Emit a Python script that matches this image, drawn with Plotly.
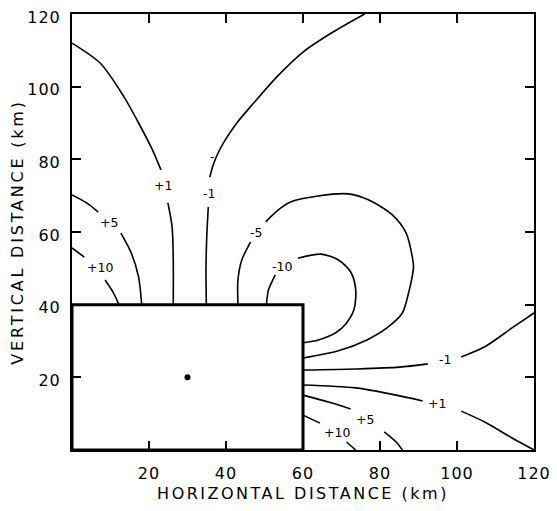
import plotly.graph_objects as go

# ---- contour lines (km); None = break at a label ----
p1L_x = [0, 7.3, 13.5, 17.3, 20.9, 23.1, None, 24.9, 26.0, 26.3, 26.3]
p1L_y = [112, 106.5, 97.2, 90.0, 82.6, 77.1, None, 68.0, 61.4, 52.3, 40]

m1L_x = [76.0, 67.9, 60.1, 53.2, 47.2, 42.8, 39.5, 37.7, 36.6, 35.8, None, 35.4, 35.0, 34.8, 34.9]
m1L_y = [120, 115.1, 109.6, 102.7, 95.5, 90.0, 84.8, 81.2, 78.2, 75.1, None, 66.9, 58.6, 49.5, 40]

m5_x = [43.1, 43.1, 44.1, 46.4, None, 50.3, 53.6, 56.9, 63.9, 71.8, 77.1, 83.2, 86.8,
        88.4, 88.7, 88.2, 87.6, 85.8, 81.8, 76.6, 69.2, 60]
m5_y = [40, 46.8, 52.3, 57.3, None, 62.8, 66.1, 68.3, 69.9, 70.5, 68.8, 64.7, 59.7,
        53.1, 50.4, 46.8, 44.0, 37.7, 33.6, 30.3, 27.3, 25.3]

m10_x = [50.5, 51.0, 51.8, 52.8, None, 58.7, 64.7, 69.2, 72.4, 73.7, 73.2, 71.1, 68.4, 64.0, 60]
m10_y = [40, 44.0, 46.0, 48.2, None, 52.8, 53.9, 52.3, 49.0, 44.0, 38.5, 34.7, 32.2, 30.3, 29.5]

m1R_x = [60, 73.7, 85.0, 92.4, None, 101.1, 107.2, 114.3, 120]
m1R_y = [22.0, 22.3, 22.8, 23.7, None, 25.6, 28.4, 33.6, 37.7]

p1R_x = [60, 73.7, 84.2, 91.1, None, 101.1, 107.2, 114.3, 120]
p1R_y = [17.9, 17.1, 15.1, 13.5, None, 10.7, 7.7, 3.3, 0]

p5R_x = [60, 66.6, 72.4, None, 81.1, 84.2, 85.8]
p5R_y = [15.1, 13.2, 11.3, None, 5.0, 2.2, 0]

p10R_x = [60, 64.4, None, 71.3, 73.7]
p10R_y = [9.6, 7.4, None, 2.2, 0]

p5L_x = [0, 3.8, 6.8, None, 12.7, 15.4, 17.3, 18.1]
p5L_y = [70.2, 68.0, 65.5, None, 59.7, 54.2, 47.6, 40]

p10L_x = [0, 3.2, None, 8.6, 10.8, 12.2]
p10L_y = [55.6, 53.1, None, 46.8, 43.2, 40]

# ---- contour labels ----
label_text = ["+1", "-1", "-5", "-10", "+5", "+10", "-1", "+1", "+5", "+10", "-"]
label_x = [23.7, 35.7, 47.9, 54.6, 9.5, 7.3, 96.8, 94.7, 76.0, 68.7, 36.6]
label_y = [72.9, 70.7, 60.0, 50.4, 62.5, 50.2, 25.0, 12.7, 8.3, 4.7, 80.9]

# ---- body (rectangle) and source point ----
box_x = [0, 60]
box_y = [0, 40]
dot_x = [30]
dot_y = [20]

tick_vals = [20, 40, 60, 80, 100, 120]
tick_text = ["20", "40", "60", "80", "100", "120"]
x_title = "HORIZONTAL DISTANCE (km)"
y_title = "VERTICAL DISTANCE (km)"

FONT = "DejaVu Sans"


def spaced(s, px):
    return '<span style="letter-spacing:%spx">%s</span>' % (px, s)


fig = go.Figure()
lines = [(p1L_x, p1L_y), (m1L_x, m1L_y), (m5_x, m5_y), (m10_x, m10_y),
         (m1R_x, m1R_y), (p1R_x, p1R_y), (p5R_x, p5R_y), (p10R_x, p10R_y),
         (p5L_x, p5L_y), (p10L_x, p10L_y)]
for xs, ys in lines:
    fig.add_trace(go.Scatter(x=xs, y=ys, mode="lines",
                             line=dict(color="black", width=1.6, shape="spline", smoothing=0.8),
                             connectgaps=False, hoverinfo="skip", showlegend=False))

fig.add_trace(go.Scatter(x=dot_x, y=dot_y, mode="markers",
                         marker=dict(color="black", size=6), hoverinfo="skip", showlegend=False))

fig.add_shape(type="rect", x0=box_x[0], x1=box_x[1], y0=box_y[0], y1=box_y[1],
              line=dict(color="black", width=3), xref="x", yref="y")

for t, x, y in zip(label_text, label_x, label_y):
    fig.add_annotation(x=x, y=y, text=t, showarrow=False,
                       font=dict(family=FONT, size=12.5, color="black"))

axis_common = dict(range=[0, 120], tickvals=tick_vals,
                   ticktext=[spaced(t, 1) for t in tick_text],
                   ticks="inside", ticklen=9, tickwidth=1.5,
                   tickcolor="black", showline=True, linewidth=2, linecolor="black",
                   mirror="ticks", showgrid=False, zeroline=False,
                   tickfont=dict(family=FONT, size=16, color="black"),
                   ticklabeloverflow="allow", automargin=False)

# the page body adds an 8px margin, so the figure is kept inside the window
fig.update_layout(
    width=549, height=495,
    margin=dict(l=64, r=23, t=6, b=53),
    paper_bgcolor="white", plot_bgcolor="white",
    xaxis=dict(**axis_common, ticklabelstandoff=8,
               title=dict(text=spaced(x_title, 2.5), standoff=8,
                          font=dict(family=FONT, size=16, color="black"))),
    yaxis=dict(**axis_common, ticklabelstandoff=6, ticklabelshift=3,
               title=dict(text=spaced(y_title, 2.8), standoff=6,
                          font=dict(family=FONT, size=16, color="black"))),
)

fig.write_html("out.html")
